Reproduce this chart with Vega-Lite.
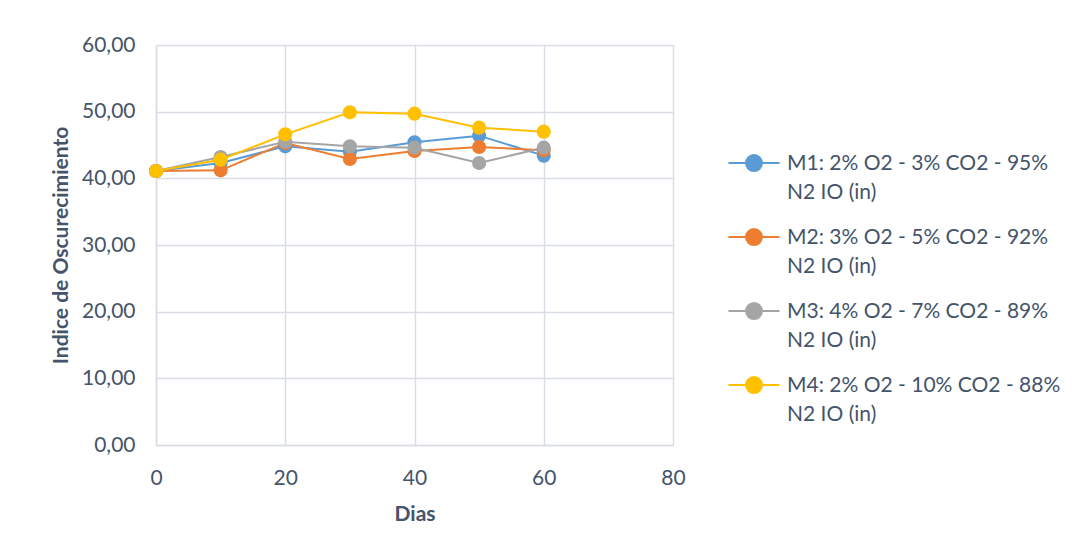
{
  "$schema": "https://vega.github.io/schema/vega-lite/v6.json",
  "autosize": {"type": "none"},
  "width": 517,
  "height": 400,
  "padding": {"left": 156, "top": 45, "right": 399, "bottom": 107},
  "background": "white",
  "data": {
    "values": [
      {"serie": "M1: 2% O2 - 3% CO2 - 95%|N2 IO (in)", "dias": 0, "io": 41.1},
      {"serie": "M1: 2% O2 - 3% CO2 - 95%|N2 IO (in)", "dias": 10, "io": 42.3},
      {"serie": "M1: 2% O2 - 3% CO2 - 95%|N2 IO (in)", "dias": 20, "io": 44.8},
      {"serie": "M1: 2% O2 - 3% CO2 - 95%|N2 IO (in)", "dias": 30, "io": 44.0},
      {"serie": "M1: 2% O2 - 3% CO2 - 95%|N2 IO (in)", "dias": 40, "io": 45.4},
      {"serie": "M1: 2% O2 - 3% CO2 - 95%|N2 IO (in)", "dias": 50, "io": 46.4},
      {"serie": "M1: 2% O2 - 3% CO2 - 95%|N2 IO (in)", "dias": 60, "io": 43.4},
      {"serie": "M2: 3% O2 - 5% CO2 - 92%|N2 IO (in)", "dias": 0, "io": 41.1},
      {"serie": "M2: 3% O2 - 5% CO2 - 92%|N2 IO (in)", "dias": 10, "io": 41.2},
      {"serie": "M2: 3% O2 - 5% CO2 - 92%|N2 IO (in)", "dias": 20, "io": 45.3},
      {"serie": "M2: 3% O2 - 5% CO2 - 92%|N2 IO (in)", "dias": 30, "io": 42.9},
      {"serie": "M2: 3% O2 - 5% CO2 - 92%|N2 IO (in)", "dias": 40, "io": 44.1},
      {"serie": "M2: 3% O2 - 5% CO2 - 92%|N2 IO (in)", "dias": 50, "io": 44.7},
      {"serie": "M2: 3% O2 - 5% CO2 - 92%|N2 IO (in)", "dias": 60, "io": 44.2},
      {"serie": "M3: 4% O2 - 7% CO2 - 89%|N2 IO (in)", "dias": 0, "io": 41.1},
      {"serie": "M3: 4% O2 - 7% CO2 - 89%|N2 IO (in)", "dias": 10, "io": 43.2},
      {"serie": "M3: 4% O2 - 7% CO2 - 89%|N2 IO (in)", "dias": 20, "io": 45.5},
      {"serie": "M3: 4% O2 - 7% CO2 - 89%|N2 IO (in)", "dias": 30, "io": 44.8},
      {"serie": "M3: 4% O2 - 7% CO2 - 89%|N2 IO (in)", "dias": 40, "io": 44.6},
      {"serie": "M3: 4% O2 - 7% CO2 - 89%|N2 IO (in)", "dias": 50, "io": 42.3},
      {"serie": "M3: 4% O2 - 7% CO2 - 89%|N2 IO (in)", "dias": 60, "io": 44.6},
      {"serie": "M4: 2% O2 - 10% CO2 - 88%|N2 IO (in)", "dias": 0, "io": 41.1},
      {"serie": "M4: 2% O2 - 10% CO2 - 88%|N2 IO (in)", "dias": 10, "io": 42.8},
      {"serie": "M4: 2% O2 - 10% CO2 - 88%|N2 IO (in)", "dias": 20, "io": 46.6},
      {"serie": "M4: 2% O2 - 10% CO2 - 88%|N2 IO (in)", "dias": 30, "io": 49.9},
      {"serie": "M4: 2% O2 - 10% CO2 - 88%|N2 IO (in)", "dias": 40, "io": 49.7},
      {"serie": "M4: 2% O2 - 10% CO2 - 88%|N2 IO (in)", "dias": 50, "io": 47.6},
      {"serie": "M4: 2% O2 - 10% CO2 - 88%|N2 IO (in)", "dias": 60, "io": 47.0}
    ]
  },
  "encoding": {
    "x": {
      "field": "dias", "type": "quantitative", "title": "Dias",
      "scale": {"domain": [0, 80], "nice": false},
      "axis": {"values": [0, 20, 40, 60, 80], "ticks": false, "labelFlush": false, "labelPadding": 22, "titlePadding": 15}
    },
    "y": {
      "field": "io", "type": "quantitative", "title": "Indice de Oscurecimiento",
      "scale": {"domain": [0, 60], "nice": false, "zero": true},
      "axis": {
        "values": [0, 10, 20, 30, 40, 50, 60], "ticks": false, "labelPadding": 21, "titlePadding": 10,
        "labelExpr": "replace(format(datum.value, '.2f'), '.', ',')"
      }
    },
    "color": {
      "field": "serie", "type": "nominal", "title": null,
      "scale": {"range": ["#5b9bd5", "#ed7d31", "#a5a5a5", "#ffc000"]},
      "legend": {
        "orient": "none", "legendX": 574, "legendY": 84,
        "labelExpr": "split(datum.label, '|')",
        "symbolType": "M-1.12,0.44H-0.35M0.35,0.44H1.12M-0.35,0.44A0.35,0.35,0,1,0,0.35,0.44A0.35,0.35,0,1,0,-0.35,0.44",
        "symbolSize": 2080, "symbolStrokeWidth": 2,
        "rowPadding": 0, "labelLimit": 400, "labelOffset": 9,
        "labelBaseline": "top"
      }
    }
  },
  "layer": [
    {"mark": {"type": "line", "strokeWidth": 2}},
    {"mark": {"type": "circle", "size": 200, "opacity": 1}}
  ],
  "config": {
    "font": "Lato",
    "view": {"stroke": null},
    "style": {"guide-label": {"lineHeight": 29}},
    "axis": {
      "grid": true, "gridColor": "#d9dde6", "gridWidth": 1.5,
      "domainColor": "#d9dde6", "domainWidth": 1.5,
      "labelFont": "Lato", "labelFontSize": 21, "labelColor": "#44546a",
      "titleFont": "Lato", "titleFontSize": 21, "titleFontWeight": "bold", "titleColor": "#44546a"
    },
    "legend": {
      "labelFont": "Lato", "labelFontSize": 21, "labelColor": "#44546a"
    }
  }
}
